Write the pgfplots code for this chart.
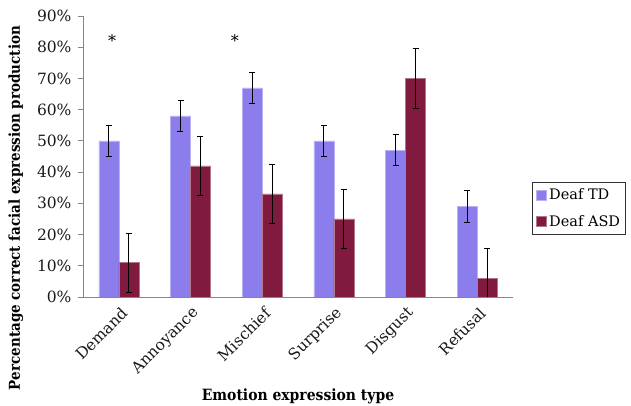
\documentclass[border=0pt]{standalone}
\usepackage{pgfplots}
\pgfplotsset{compat=1.18}
\usepackage{fontspec}
\setmainfont{DejaVu Serif}
\newfontfamily\condfont{DejaVu Serif Condensed}
\definecolor{tdcol}{RGB}{139,125,235}
\definecolor{asdcol}{RGB}{128,27,63}
\definecolor{axgray}{RGB}{134,134,134}

\begin{document}
\begin{tikzpicture}
\begin{axis}[
    at={(0pt,0pt)}, anchor=south west,
    scale only axis, width=430pt, height=281pt,
    ybar=0pt, bar width=20pt,
    xmin=-0.5, xmax=5.5, ymin=0, ymax=90,
    xtick={0,...,5},
    xticklabels={Demand,Annoyance,Mischief,Surprise,Disgust,Refusal},
    ytick={0,10,...,90},
    yticklabels={0\%,10\%,20\%,30\%,40\%,50\%,60\%,70\%,80\%,90\%},
    axis x line*=bottom, axis y line*=left,
    axis line style={axgray, line width=0.8pt, -},
    x tick style={draw=none},
    y tick style={axgray, line width=0.8pt},
    tick align=outside, major tick length=5pt,
    ticklabel style={font=\fontsize{15.5}{18}\selectfont, text=black!90},
    xticklabel style={rotate=45, anchor=east, inner sep=2pt, yshift=-10pt, xshift=0pt},
    yticklabel style={xshift=-3pt},
    ylabel={Percentage correct facial expression production},
    ylabel style={at={(axis description cs:-0.156,0.317)}, anchor=center,
      font=\condfont\bfseries\fontsize{15}{18}\selectfont},
    xlabel={Emotion expression type},
    xlabel style={at={(axis description cs:0.5,-0.352)}, anchor=center, inner sep=1pt,
      font=\condfont\bfseries\fontsize{15.5}{18}\selectfont},
    legend style={at={(axis description cs:1.044,0.409)}, anchor=north west,
      draw=black!80, line width=0.8pt, inner xsep=4pt, inner ysep=5pt,
      row sep=11pt, column sep=1pt, nodes={inner sep=1.5pt},
      font=\fontsize{14.5}{18}\selectfont},
    legend cell align=left,
    legend image code/.code={\fill[#1] (0pt,-4.5pt) rectangle (10pt,5.5pt);},
    error bars/error bar style={black, line width=0.8pt},
    error bars/error mark options={rotate=90, black, mark size=3pt, line width=0.8pt},
  ]

\addplot[fill=tdcol, draw=tdcol!60!white, line width=0.4pt,
  error bars/.cd, y dir=both, y explicit]
  coordinates {(0,50) +- (0,5) (1,58) +- (0,5) (2,67) +- (0,5)
               (3,50) +- (0,5) (4,47) +- (0,5) (5,29) +- (0,5)};
\addplot[fill=asdcol, draw=asdcol!60!white, line width=0.4pt,
  error bars/.cd, y dir=both, y explicit]
  coordinates {(0,11) +- (0,9.5) (1,42) +- (0,9.5) (2,33) +- (0,9.5)
               (3,25) +- (0,9.5) (4,70) +- (0,9.5) (5,6) += (0,9.5) -= (0,6)};
\legend{Deaf TD,Deaf ASD}

\node[font=\fontsize{16}{18}\selectfont] at (axis cs:-0.095,82) {*};
\node[font=\fontsize{16}{18}\selectfont] at (axis cs:1.62,82) {*};
\end{axis}
% fixed page: axis origin sits at pixel (83,297) of the 631x406 reference
\pgfresetboundingbox
\path (-83pt,-109pt) rectangle (548pt,297pt);
\end{tikzpicture}
\end{document}
